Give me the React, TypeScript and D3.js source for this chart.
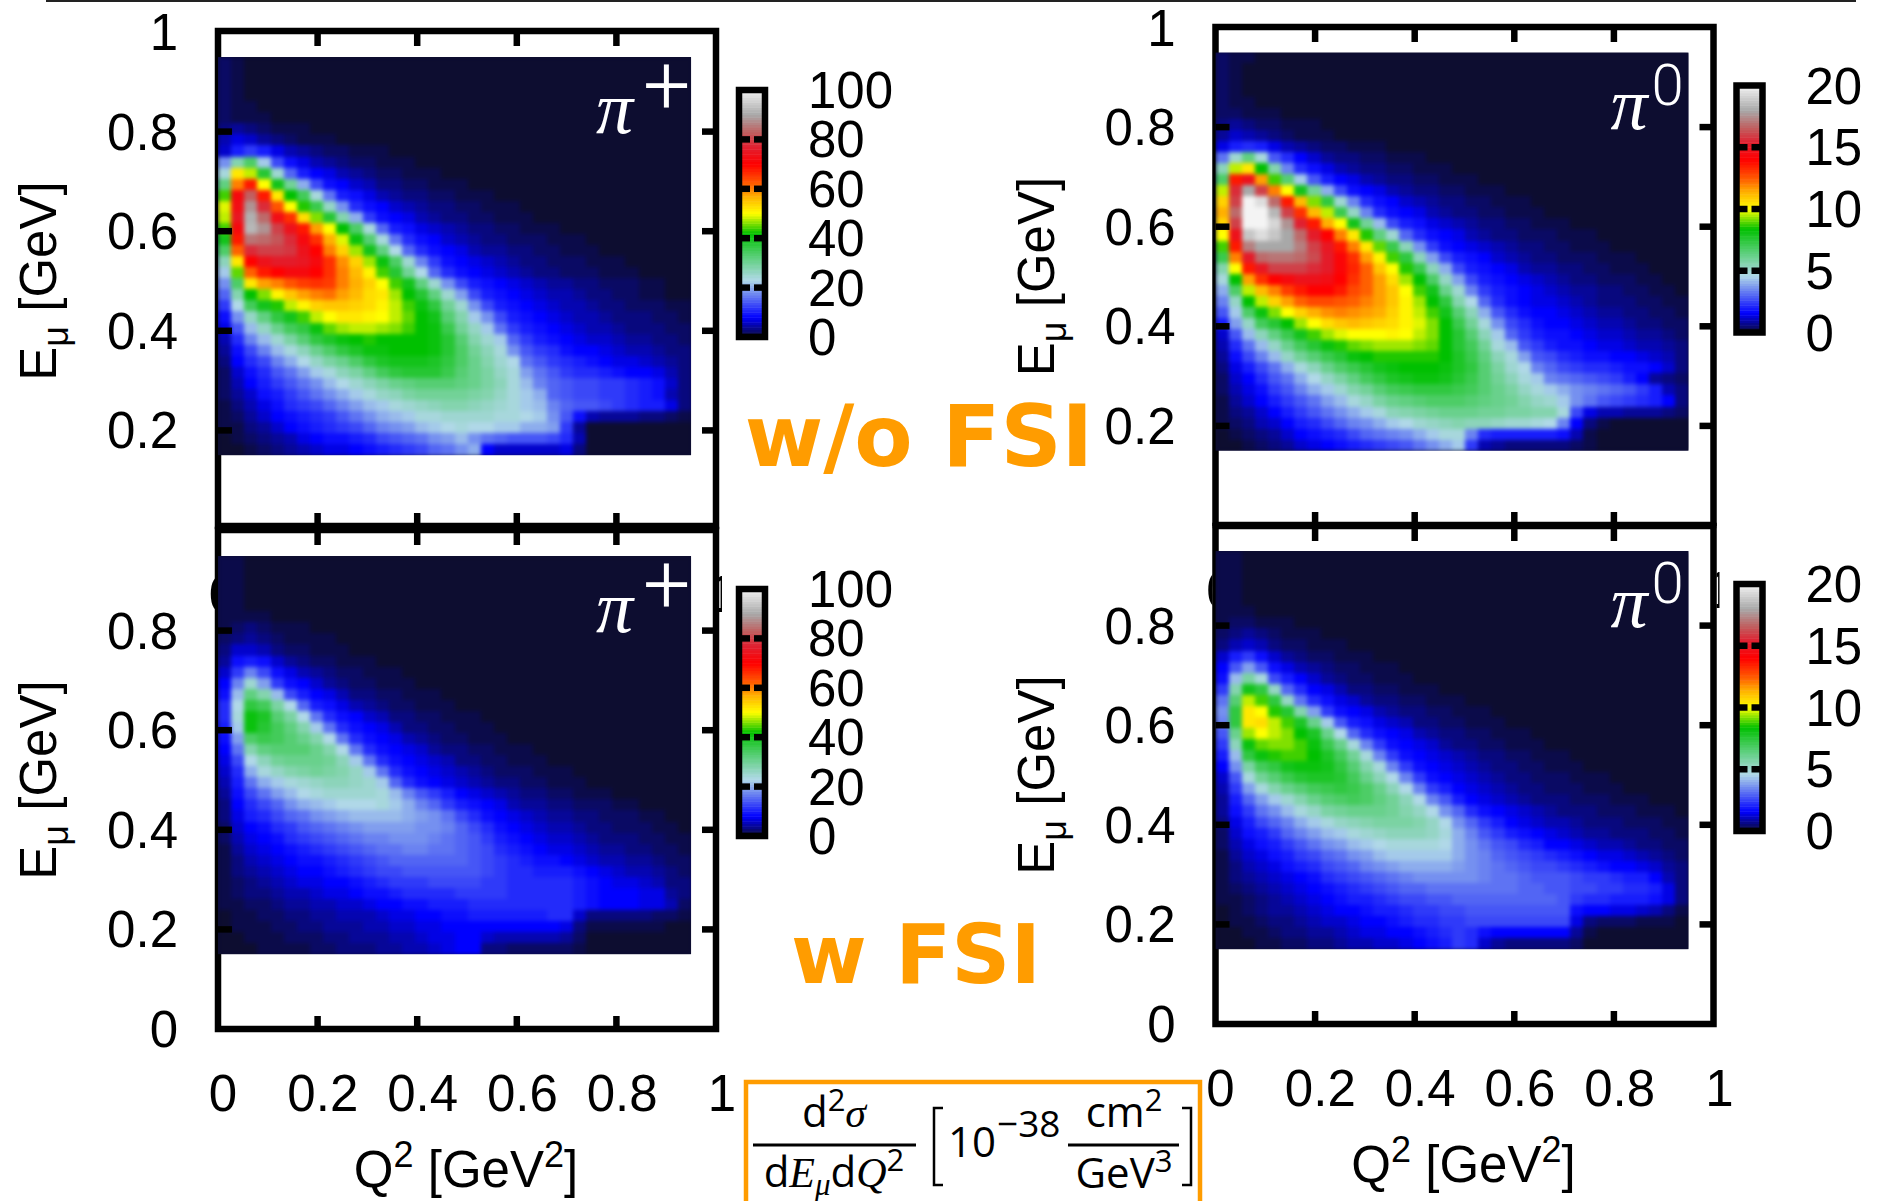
import * as d3 from "d3";

// cross section, one row per 36 columns, top row first
// (Q2 0 - 0.95, E 0.95 - 0.15). Rows stop where the map goes to the background.
// Values are percent of the colour bar range (0-100 left, 0-20 right).
const piPlusNoFsi = [
  [2, 1], [2, 1], [2, 1], [2, 1], [2, 1, 1], [2, 1, 1, 1],
  [3, 4, 3, 2, 1, 1, 1],
  [5, 7, 6, 4, 3, 2, 1, 1, 1],
  [6, 10, 12, 10, 7, 5, 4, 3, 2, 2, 1, 1, 1],
  [18, 28, 34, 22, 13, 9, 7, 5, 4, 3, 2, 2, 1, 1, 1],
  [24, 52, 48, 38, 25, 15, 10, 8, 7, 5, 4, 3, 2, 2, 1, 1, 1],
  [32, 60, 68, 50, 40, 30, 20, 13, 9, 8, 6, 5, 3, 3, 2, 2, 1, 1, 1],
  [44, 72, 83, 68, 52, 42, 35, 24, 16, 10, 9, 7, 5, 4, 3, 3, 2, 2, 1, 1, 1],
  [49, 73, 88, 78, 63, 50, 43, 36, 26, 18, 11, 9, 8, 6, 5, 4, 3, 3, 2, 2, 1, 1, 1],
  [48, 75, 91, 84, 73, 66, 53, 46, 38, 28, 20, 12, 9, 8, 7, 5, 4, 3, 3, 2, 2, 1, 1, 1],
  [44, 72, 92, 88, 80, 74, 68, 58, 50, 42, 34, 24, 15, 10, 9, 7, 6, 5, 4, 3, 3, 2, 2, 1, 1, 1],
  [40, 68, 85, 84, 82, 78, 72, 66, 57, 49, 41, 33, 24, 16, 11, 9, 8, 6, 5, 4, 3, 3, 2, 2, 2, 1, 1, 1],
  [34, 62, 78, 80, 80, 79, 74, 70, 60, 54, 47, 40, 32, 23, 15, 11, 9, 8, 7, 5, 4, 4, 3, 3, 2, 2, 1, 1, 1],
  [27, 52, 70, 74, 76, 76, 75, 72, 66, 59, 54, 47, 41, 34, 25, 17, 12, 9, 8, 7, 6, 5, 4, 3, 3, 2, 2, 2, 1, 1, 1],
  [22, 45, 62, 68, 70, 72, 72, 70, 66, 60, 56, 51, 44, 38, 30, 23, 15, 11, 9, 8, 7, 6, 5, 4, 3, 3, 2, 2, 2, 1, 1, 1],
  [18, 34, 52, 58, 60, 63, 65, 66, 65, 60, 57, 54, 50, 44, 40, 32, 25, 18, 13, 10, 9, 8, 7, 6, 5, 4, 4, 3, 3, 2, 2, 2, 1, 1],
  [15, 28, 42, 46, 51, 55, 58, 60, 61, 58, 56, 53, 52, 47, 42, 38, 32, 25, 19, 13, 10, 9, 8, 7, 6, 5, 5, 4, 3, 3, 2, 2, 1, 1],
  [12, 23, 35, 40, 43, 48, 51, 54, 55, 55, 54, 53, 51, 48, 44, 41, 37, 30, 25, 18, 13, 10, 9, 8, 7, 6, 5, 5, 4, 3, 3, 2, 2, 2, 1, 1],
  [9, 18, 26, 32, 37, 40, 44, 48, 50, 52, 52, 51, 50, 48, 45, 42, 40, 33, 28, 22, 18, 13, 10, 9, 8, 7, 6, 5, 5, 4, 3, 3, 3, 2, 2, 1],
  [7, 14, 21, 26, 31, 35, 37, 41, 45, 47, 48, 48, 47, 46, 44, 42, 41, 36, 30, 26, 22, 16, 12, 10, 9, 8, 7, 6, 5, 5, 4, 3, 3, 3, 2, 2],
  [5, 11, 17, 21, 25, 29, 33, 37, 39, 41, 42, 43, 42, 42, 42, 42, 41, 38, 33, 28, 25, 22, 15, 12, 10, 9, 8, 7, 6, 6, 5, 4, 4, 3, 3, 2],
  [4, 9, 13, 17, 21, 24, 27, 31, 34, 37, 39, 41, 41, 42, 42, 42, 41, 38, 34, 30, 27, 24, 18, 14, 12, 11, 9, 8, 8, 7, 6, 5, 5, 4, 3, 3],
  [3, 8, 11, 13, 17, 20, 23, 26, 29, 31, 34, 37, 39, 40, 40, 40, 39, 37, 34, 31, 28, 25, 23, 16, 14, 12, 11, 10, 9, 8, 7, 7, 6, 5, 4, 3],
  [2, 6, 9, 11, 14, 16, 19, 22, 24, 27, 29, 32, 35, 37, 38, 38, 38, 36, 33, 31, 29, 26, 24, 19, 16, 14, 12, 11, 11, 10, 9, 8, 8, 7, 5, 3],
  [2, 5, 8, 10, 12, 14, 16, 18, 21, 23, 25, 27, 29, 31, 32, 33, 33, 33, 32, 31, 29, 27, 24, 21, 17, 15, 14, 13, 13, 12, 12, 11, 10, 9, 6, 3],
  [2, 4, 6, 9, 10, 12, 14, 16, 18, 20, 22, 24, 26, 27, 29, 30, 30, 30, 30, 29, 28, 26, 24, 22, 20, 15, 14, 13, 13, 12, 12, 11, 10, 9, 5, 3],
  [1, 3, 5, 7, 9, 11, 12, 13, 15, 17, 19, 21, 22, 24, 25, 26, 27, 28, 28, 27, 26, 25, 24, 22, 21, 17, 15, 14, 14, 13, 12, 11, 10, 10, 7, 3],
  [1, 2, 4, 6, 8, 9, 10, 11, 12, 14, 16, 18, 20, 21, 22, 24, 24, 25, 25, 25, 25, 24, 24, 23, 22, 18, 14, 9, 5, 4, 4, 4, 3, 3, 2, 1],
  [1, 1, 3, 4, 6, 8, 9, 10, 11, 12, 13, 15, 17, 18, 19, 21, 22, 23, 24, 23, 23, 22, 22, 20, 20, 19, 12, 4],
  [0, 1, 2, 3, 4, 5, 7, 8, 9, 9, 10, 11, 13, 14, 15, 16, 18, 19, 21, 18, 16, 15, 14, 14, 14, 13, 11, 5],
  [0, 0, 1, 2, 3, 4, 5, 6, 7, 7, 8, 9, 10, 11, 12, 13, 15, 16, 18, 20, 8, 6, 6, 6, 6, 6, 7, 3],
];

const piZeroNoFsi = [
  [2, 1, 1], [2, 1], [2, 1], [2, 1], [2, 1, 1], [2, 2, 1, 1, 1],
  [3, 4, 3, 2, 2, 1, 1, 1],
  [4, 6, 5, 4, 3, 2, 1, 1, 1],
  [7, 10, 11, 10, 7, 5, 4, 3, 2, 2, 1, 1, 1],
  [16, 25, 32, 24, 14, 11, 8, 6, 4, 3, 3, 2, 2, 1, 1, 1],
  [27, 48, 52, 42, 28, 17, 11, 9, 7, 5, 4, 3, 3, 2, 2, 1, 1, 1],
  [34, 68, 74, 58, 44, 33, 22, 14, 10, 8, 7, 5, 4, 3, 3, 2, 2, 1, 1, 1],
  [48, 78, 90, 80, 60, 50, 40, 30, 20, 13, 9, 8, 7, 5, 4, 3, 3, 2, 2, 1, 1, 1],
  [54, 80, 100, 97, 84, 68, 56, 46, 37, 25, 17, 11, 9, 8, 6, 5, 4, 3, 3, 2, 2, 1, 1, 1],
  [57, 84, 100, 100, 92, 80, 66, 56, 48, 36, 26, 17, 11, 9, 8, 7, 5, 4, 3, 3, 2, 2, 1, 1, 1],
  [54, 80, 100, 100, 96, 88, 77, 68, 57, 50, 40, 30, 21, 13, 10, 9, 7, 6, 5, 4, 3, 3, 2, 2, 1, 1, 1],
  [50, 74, 94, 97, 94, 90, 84, 76, 70, 60, 52, 43, 32, 25, 15, 11, 9, 8, 7, 5, 4, 3, 3, 2, 2, 2, 1, 1, 1],
  [44, 68, 86, 90, 90, 90, 86, 80, 75, 68, 60, 52, 45, 36, 27, 18, 12, 9, 8, 7, 6, 5, 4, 3, 3, 2, 2, 1, 1, 1],
  [36, 60, 76, 84, 85, 85, 84, 81, 76, 71, 66, 58, 51, 44, 37, 27, 19, 13, 10, 9, 8, 6, 5, 4, 3, 3, 2, 2, 2, 1, 1, 1],
  [28, 50, 68, 75, 80, 80, 80, 78, 76, 71, 67, 62, 55, 50, 43, 36, 27, 20, 13, 10, 9, 8, 7, 5, 4, 4, 3, 3, 2, 2, 1, 1, 1],
  [24, 42, 58, 66, 70, 72, 74, 74, 73, 70, 66, 62, 58, 53, 47, 42, 34, 26, 19, 13, 10, 9, 8, 7, 6, 5, 4, 3, 3, 2, 2, 2, 1, 1],
  [20, 34, 48, 56, 60, 65, 68, 70, 70, 68, 64, 62, 58, 55, 50, 44, 40, 31, 25, 17, 12, 10, 9, 8, 7, 6, 5, 4, 4, 3, 3, 2, 2, 1, 1],
  [17, 26, 42, 48, 54, 58, 62, 64, 64, 63, 62, 60, 58, 55, 51, 47, 42, 37, 28, 23, 15, 11, 9, 8, 7, 7, 6, 5, 4, 3, 3, 3, 2, 2, 1, 1],
  [14, 22, 34, 41, 46, 50, 54, 57, 59, 60, 59, 58, 57, 54, 51, 48, 44, 40, 33, 27, 20, 14, 11, 9, 8, 8, 7, 6, 5, 4, 4, 3, 3, 2, 2, 1],
  [10, 19, 26, 35, 38, 42, 47, 50, 53, 55, 56, 55, 54, 53, 51, 49, 46, 42, 36, 30, 24, 18, 13, 11, 9, 8, 8, 7, 6, 5, 5, 4, 3, 3, 2, 2],
  [6, 14, 21, 27, 32, 36, 40, 44, 47, 49, 50, 50, 50, 51, 50, 48, 46, 42, 38, 33, 27, 22, 15, 12, 10, 9, 9, 8, 7, 6, 6, 5, 4, 4, 3, 2],
  [5, 11, 16, 21, 26, 31, 35, 38, 41, 43, 45, 46, 47, 47, 47, 46, 45, 42, 38, 35, 30, 24, 21, 14, 12, 10, 9, 9, 8, 7, 7, 6, 5, 5, 4, 3],
  [4, 9, 13, 17, 21, 26, 30, 33, 36, 38, 41, 42, 43, 43, 43, 43, 43, 42, 39, 36, 32, 27, 24, 19, 14, 13, 11, 10, 9, 9, 8, 8, 7, 6, 5, 3],
  [3, 7, 10, 13, 16, 20, 24, 27, 31, 34, 36, 38, 40, 41, 42, 42, 42, 41, 39, 37, 33, 29, 25, 23, 17, 15, 13, 12, 11, 11, 10, 9, 9, 8, 6, 3],
  [2, 6, 8, 11, 14, 16, 20, 23, 26, 29, 32, 35, 37, 39, 40, 41, 41, 40, 38, 36, 33, 30, 27, 24, 22, 17, 16, 15, 14, 13, 12, 10, 8, 4, 3, 2],
  [2, 5, 7, 9, 12, 14, 17, 20, 22, 25, 28, 30, 33, 35, 36, 37, 37, 37, 36, 35, 33, 31, 29, 26, 24, 22, 20, 18, 17, 16, 15, 14, 12, 10, 5, 3],
  [1, 4, 6, 8, 10, 12, 14, 16, 19, 21, 24, 26, 29, 31, 32, 33, 34, 34, 34, 33, 32, 31, 30, 28, 26, 25, 22, 18, 16, 14, 13, 12, 11, 10, 8, 3],
  [1, 3, 4, 6, 8, 10, 12, 14, 16, 18, 20, 22, 24, 27, 28, 29, 30, 31, 31, 31, 30, 30, 29, 29, 28, 28, 24, 13, 7, 5, 5, 4, 4, 4, 3, 2],
  [1, 2, 3, 5, 6, 8, 10, 11, 13, 15, 17, 18, 20, 22, 23, 25, 26, 27, 28, 27, 27, 26, 25, 25, 24, 23, 17, 8, 3, 1],
  [0, 1, 2, 3, 4, 6, 8, 9, 10, 11, 13, 15, 16, 17, 18, 20, 22, 24, 24, 17, 11, 10, 10, 10, 10, 10, 9, 5, 1],
  [0, 0, 1, 2, 3, 4, 6, 7, 8, 9, 10, 11, 12, 13, 14, 16, 18, 20, 22, 12, 5, 4, 3, 3, 3, 3, 3, 2, 1],
];

const piPlusFsi = [
  [1, 1], [1, 1], [1, 1], [1, 1], [1, 1], [1, 1, 1, 1],
  [1, 2, 3, 2, 1, 1, 1],
  [2, 3, 4, 3, 2, 1, 1, 1, 1],
  [3, 6, 6, 5, 3, 2, 2, 1, 1, 1],
  [4, 9, 10, 9, 6, 4, 3, 2, 2, 1, 1, 1],
  [6, 12, 17, 13, 9, 7, 5, 4, 3, 2, 2, 1, 1, 1],
  [8, 17, 25, 19, 12, 9, 8, 6, 4, 3, 2, 2, 1, 1, 1],
  [9, 21, 32, 28, 21, 13, 10, 8, 7, 5, 3, 3, 2, 2, 1, 1, 1],
  [11, 23, 37, 35, 29, 23, 15, 10, 9, 7, 5, 4, 3, 2, 2, 1, 1, 1],
  [11, 24, 41, 39, 33, 29, 23, 16, 11, 9, 8, 6, 5, 3, 3, 2, 2, 1, 1, 1],
  [10, 22, 41, 38, 35, 32, 28, 22, 16, 11, 9, 8, 7, 5, 3, 3, 2, 2, 1, 1, 1],
  [9, 19, 34, 36, 35, 33, 31, 28, 23, 16, 11, 9, 8, 7, 5, 4, 3, 2, 2, 1, 1, 1],
  [8, 16, 28, 32, 33, 33, 33, 31, 28, 23, 16, 11, 9, 8, 7, 6, 4, 3, 3, 2, 2, 1, 1, 1],
  [7, 13, 23, 27, 30, 31, 31, 31, 30, 27, 22, 16, 11, 9, 8, 7, 6, 5, 3, 3, 2, 2, 1, 1, 1],
  [6, 11, 20, 24, 26, 28, 29, 30, 29, 28, 26, 22, 16, 11, 9, 8, 7, 6, 5, 4, 3, 2, 2, 2, 1, 1, 1],
  [5, 10, 16, 20, 22, 24, 25, 26, 27, 27, 26, 25, 22, 15, 11, 9, 8, 7, 6, 5, 4, 3, 3, 2, 2, 1, 1, 1],
  [4, 9, 13, 16, 19, 21, 23, 24, 25, 25, 25, 25, 24, 21, 17, 14, 12, 10, 8, 7, 6, 5, 4, 3, 3, 2, 2, 1, 1, 1],
  [3, 8, 11, 13, 15, 18, 20, 21, 22, 23, 23, 23, 24, 22, 20, 17, 15, 12, 10, 9, 8, 7, 5, 4, 4, 3, 3, 2, 2, 2, 1, 1],
  [3, 7, 10, 11, 13, 15, 16, 18, 19, 20, 21, 21, 21, 21, 20, 19, 18, 16, 13, 11, 9, 8, 7, 6, 5, 4, 4, 3, 3, 2, 2, 2, 1, 1],
  [2, 6, 8, 9, 11, 12, 14, 15, 16, 17, 18, 19, 19, 19, 19, 18, 18, 17, 15, 13, 11, 9, 8, 7, 6, 5, 5, 4, 3, 3, 2, 2, 2, 1, 1],
  [2, 5, 7, 8, 9, 11, 12, 13, 14, 15, 16, 17, 17, 18, 18, 18, 17, 16, 15, 14, 12, 10, 9, 8, 7, 6, 6, 5, 4, 3, 3, 3, 2, 2, 1, 1],
  [1, 4, 6, 7, 8, 9, 10, 11, 12, 13, 14, 15, 16, 16, 17, 17, 16, 16, 15, 14, 13, 11, 10, 9, 8, 7, 7, 6, 5, 4, 4, 3, 3, 2, 2, 1],
  [1, 3, 5, 6, 7, 8, 9, 9, 10, 11, 12, 13, 14, 15, 15, 15, 15, 15, 15, 14, 13, 12, 11, 10, 9, 9, 8, 7, 6, 5, 5, 4, 4, 3, 2, 2],
  [1, 3, 4, 5, 6, 7, 8, 8, 9, 10, 11, 12, 13, 13, 14, 14, 14, 14, 14, 14, 13, 12, 11, 11, 10, 10, 10, 9, 8, 7, 6, 5, 5, 4, 3, 2],
  [1, 2, 3, 4, 5, 6, 7, 7, 8, 8, 9, 10, 11, 12, 12, 12, 13, 13, 13, 13, 12, 12, 11, 11, 11, 11, 11, 10, 9, 8, 7, 7, 6, 5, 3, 3],
  [1, 2, 3, 3, 4, 5, 5, 6, 7, 7, 8, 9, 9, 10, 11, 11, 11, 11, 12, 12, 12, 12, 11, 11, 11, 11, 11, 10, 9, 8, 8, 8, 7, 7, 4, 3],
  [1, 1, 2, 2, 3, 4, 4, 5, 5, 6, 6, 7, 8, 8, 9, 9, 10, 10, 10, 11, 11, 11, 11, 11, 11, 11, 11, 10, 9, 8, 8, 8, 7, 7, 5, 2],
  [0, 1, 1, 2, 2, 3, 3, 4, 4, 5, 5, 5, 6, 7, 7, 8, 8, 9, 9, 10, 10, 10, 10, 10, 10, 11, 11, 6, 3, 3, 3, 3, 3, 2, 2, 1],
  [0, 1, 1, 1, 2, 2, 3, 3, 4, 4, 4, 5, 5, 6, 6, 7, 7, 8, 8, 8, 8, 8, 8, 8, 8, 8, 7, 3, 1, 1, 1, 1, 1, 1],
  [0, 0, 1, 1, 1, 2, 2, 2, 3, 3, 4, 4, 4, 5, 5, 6, 7, 7, 8, 8, 6, 5, 5, 5, 5, 5, 4, 2],
  [0, 0, 0, 1, 1, 1, 1, 2, 2, 3, 3, 3, 4, 4, 5, 5, 6, 7, 8, 8, 3, 3, 2, 2, 2, 2, 2, 1],
];

const piZeroFsi = [
  [1, 1], [1, 1], [1, 1], [1, 1], [1, 1], [1, 1, 1],
  [1, 2, 2, 1, 1, 1],
  [2, 3, 4, 3, 2, 1, 1, 1],
  [3, 5, 6, 5, 3, 2, 2, 1, 1, 1],
  [6, 10, 12, 9, 6, 4, 3, 2, 2, 1, 1, 1],
  [8, 14, 19, 14, 9, 7, 5, 4, 3, 2, 2, 1, 1, 1],
  [9, 21, 29, 24, 13, 10, 8, 6, 4, 3, 2, 2, 1, 1, 1],
  [12, 28, 40, 37, 26, 15, 11, 8, 7, 5, 3, 3, 2, 2, 1, 1, 1],
  [16, 33, 48, 44, 37, 26, 16, 11, 9, 7, 6, 4, 3, 3, 2, 2, 1, 1, 1],
  [18, 37, 52, 50, 43, 38, 28, 19, 12, 9, 8, 7, 5, 4, 3, 3, 2, 2, 1, 1, 1],
  [17, 37, 52, 53, 48, 44, 39, 31, 22, 14, 10, 9, 7, 6, 5, 3, 3, 2, 2, 1, 1, 1],
  [14, 31, 47, 50, 48, 46, 42, 39, 31, 23, 15, 11, 9, 8, 7, 5, 4, 3, 3, 2, 2, 1, 1, 1],
  [12, 27, 41, 45, 46, 46, 44, 41, 36, 31, 24, 17, 12, 9, 8, 7, 6, 4, 3, 3, 2, 2, 1, 1, 1],
  [10, 21, 37, 41, 43, 44, 44, 42, 39, 35, 30, 24, 17, 12, 9, 8, 7, 6, 5, 4, 3, 3, 2, 2, 1, 1, 1],
  [8, 18, 29, 35, 37, 40, 41, 41, 40, 37, 33, 28, 24, 17, 12, 9, 8, 7, 6, 5, 4, 3, 3, 2, 2, 1, 1, 1],
  [6, 14, 24, 30, 33, 36, 38, 39, 39, 38, 35, 31, 27, 23, 17, 12, 9, 8, 7, 6, 5, 4, 3, 3, 2, 2, 2, 1, 1, 1],
  [5, 12, 19, 24, 28, 31, 33, 35, 36, 37, 36, 34, 31, 27, 23, 17, 12, 10, 8, 7, 6, 5, 4, 3, 3, 2, 2, 2, 1, 1, 1],
  [4, 10, 15, 19, 22, 25, 28, 31, 33, 34, 35, 34, 32, 30, 27, 23, 17, 14, 10, 8, 7, 6, 5, 4, 3, 3, 3, 2, 2, 2, 1, 1, 1],
  [4, 9, 12, 16, 18, 21, 24, 26, 29, 30, 31, 31, 31, 30, 28, 26, 23, 18, 15, 11, 9, 8, 7, 6, 5, 4, 3, 3, 3, 2, 2, 2, 1, 1, 1],
  [3, 7, 10, 13, 15, 17, 20, 22, 24, 26, 27, 28, 29, 29, 29, 28, 26, 23, 18, 15, 12, 10, 8, 7, 6, 5, 5, 4, 3, 3, 3, 2, 2, 2, 1, 1],
  [2, 6, 9, 10, 12, 15, 17, 19, 21, 22, 24, 25, 26, 27, 27, 27, 26, 24, 20, 17, 14, 12, 10, 9, 8, 7, 6, 5, 4, 4, 3, 3, 3, 2, 2, 1],
  [2, 5, 7, 9, 10, 12, 14, 16, 18, 19, 21, 22, 23, 24, 24, 24, 24, 23, 20, 18, 16, 14, 13, 11, 10, 8, 8, 7, 6, 5, 5, 4, 3, 3, 2, 2],
  [1, 4, 6, 7, 9, 10, 12, 13, 15, 16, 18, 19, 21, 22, 22, 22, 22, 22, 20, 18, 17, 15, 14, 13, 12, 11, 10, 9, 8, 7, 7, 6, 5, 4, 3, 2],
  [1, 3, 5, 6, 7, 9, 10, 11, 13, 14, 15, 17, 18, 19, 20, 20, 20, 20, 19, 18, 17, 16, 15, 14, 13, 13, 12, 11, 10, 9, 8, 8, 7, 6, 4, 3],
  [1, 3, 4, 5, 6, 7, 8, 9, 11, 12, 13, 14, 15, 16, 17, 18, 18, 18, 18, 18, 17, 16, 16, 15, 14, 14, 14, 13, 12, 12, 11, 10, 10, 8, 5, 3],
  [1, 2, 3, 4, 5, 6, 7, 8, 9, 10, 11, 12, 13, 14, 15, 15, 16, 16, 16, 16, 16, 16, 16, 15, 15, 14, 14, 13, 13, 12, 12, 11, 11, 10, 7, 3],
  [1, 1, 2, 3, 4, 5, 6, 7, 8, 9, 10, 10, 11, 12, 13, 13, 14, 14, 15, 15, 15, 15, 15, 15, 15, 15, 14, 12, 11, 11, 10, 10, 10, 9, 7, 3],
  [0, 1, 2, 3, 4, 4, 5, 6, 7, 8, 8, 9, 10, 10, 11, 12, 12, 13, 13, 14, 14, 14, 14, 14, 14, 14, 14, 9, 8, 8, 7, 7, 6, 5, 3, 1],
  [0, 1, 1, 2, 3, 3, 4, 5, 6, 6, 7, 8, 8, 9, 10, 11, 11, 12, 12, 13, 13, 13, 13, 13, 13, 13, 13, 7, 3, 2, 2, 2, 1, 1, 1],
  [0, 0, 1, 1, 2, 3, 3, 4, 4, 5, 6, 7, 7, 8, 8, 9, 10, 11, 12, 11, 9, 8, 8, 8, 8, 8, 8, 4, 1],
  [0, 0, 0, 1, 1, 2, 2, 3, 3, 4, 5, 5, 6, 6, 7, 8, 9, 10, 12, 11, 6, 4, 3, 3, 3, 3, 3, 2],
];

const axisTicks = [0.2, 0.4, 0.6, 0.8];
const xTickLabels = [0, 0.2, 0.4, 0.6, 0.8, 1];
const barTicksPlus = [0, 20, 40, 60, 80, 100];
const barTicksZero = [0, 5, 10, 15, 20];

const paletteStops = [0, 8, 23, 32, 42, 50, 57, 62, 70, 77, 83, 90, 100];
const paletteColors = ["#0d0d30", "#0000ff", "#b0d8e8", "#60d080", "#00c000", "#ffff00", "#ffb000", "#ff6000", "#ff0000", "#e02030", "#c06060", "#a8a8a8", "#f4f4f4"];
const color = d3.scaleLinear<string>().domain(paletteStops).range(paletteColors).clamp(true);

const FONT = "'Liberation Sans', Arial, sans-serif";
const LIGHT = "Roboto, 'Liberation Sans', sans-serif";
const ORANGE = "#ff9c00";
const SIDE = 498;
const STROKE = 6.5;
const NCELL = 36;
const cellIndex = d3.range(NCELL);

const Panel = ({ id, left, zero, frameTop, frameBottom, rows, barTicks, sup, upper, lower }: any) => {
  const x = d3.scaleLinear().domain([0, 1]).range([left, left + SIDE]);
  const y = d3.scaleLinear().domain([0, 1]).range([zero, zero - SIDE]);
  const cx = d3.scaleBand<number>().domain(cellIndex).range([x(0), x(0.95)]);
  const cy = d3.scaleBand<number>().domain(cellIndex).range([y(0.95), y(0.15)]);
  const labelX = d3.scaleLinear().domain([0, 1]).range([left + 5, left + 504]);
  const barMax = d3.max(barTicks) as number;
  const barY = d3.scaleLinear().domain([0, barMax]).range([zero - 193, zero - 440]);
  const barPct = d3.scaleLinear().domain([0, 100]).range([zero - 193, zero - 440]);
  const barL = left + 521;
  const barR = left + 547;
  const imgW = x(0.95) - x(0);
  const imgH = y(0.15) - y(0.95);

  const yLabels = lower ? [0, ...axisTicks] : [...axisTicks, 1];

  return (
    <g>
      {/* lower panels are opaque and hide the tick labels of the panel above */}
      {lower && <rect x={left - 3} y={frameTop} width={SIDE + 6} height={frameBottom - frameTop} fill="#fff" />}
      <rect x={left} y={frameTop} width={SIDE} height={frameBottom - frameTop} fill="none" stroke="#000" strokeWidth={STROKE} />

      {axisTicks.map((t) => (
        <g key={t} stroke="#000" strokeWidth={STROKE}>
          <line x1={x(t)} x2={x(t)} y1={frameTop} y2={frameTop + 15} />
          <line x1={x(t)} x2={x(t)} y1={frameBottom} y2={frameBottom - 13} />
          <line x1={x(1)} x2={x(1) - 14} y1={y(t)} y2={y(t)} />
        </g>
      ))}

      <defs>
        <filter id={`soft-${id}`} x="-5%" y="-5%" width="110%" height="110%" colorInterpolationFilters="sRGB">
          <feGaussianBlur stdDeviation="2" />
        </filter>
        <clipPath id={`map-${id}`}>
          <rect x={x(0)} y={y(0.95)} width={imgW} height={imgH} />
        </clipPath>
        <clipPath id={`stub-${id}`}>
          <rect x={left + SIDE + 2} y={zero} width={4} height={100} />
        </clipPath>
      </defs>
      <g clipPath={`url(#map-${id})`}>
        <rect x={x(0)} y={y(0.95)} width={imgW} height={imgH} fill={color(0)} />
        <g filter={`url(#soft-${id})`} shapeRendering="crispEdges">
          {rows.map((row: number[], r: number) =>
            cellIndex.map((c) => (
              <rect key={c} x={cx(c)} y={cy(r)} width={cx.bandwidth() + 0.5} height={cy.bandwidth() + 0.5} fill={color(row[c] ?? 0)} />
            ))
          )}
        </g>
        <text x={left + (sup === "+" ? 378 : 395)} y={zero - 397} fontFamily="'Liberation Serif', serif" fontStyle="italic" fontSize={74} fill="#fff">π</text>
        <text x={left + (sup === "+" ? 425 : 436)} y={zero - (sup === "+" ? 416 : 421)} fontFamily={LIGHT} fontWeight={300} fontSize={sup === "+" ? 84 : 58} fill="#fff">{sup}</text>
      </g>

      {axisTicks.map((t) => (
        <line key={t} x1={x(0)} x2={x(0) + 14} y1={y(t)} y2={y(t)} stroke="#000" strokeWidth={STROKE} />
      ))}

      <g fontFamily={FONT} fontSize={51} fill="#000">
        {yLabels.map((t) => (
          <text key={t} x={left - 40} y={y(t) + 18} textAnchor="end">{t}</text>
        ))}
        <text transform={`translate(${left - 162},${zero - 249}) rotate(-90)`} textAnchor="middle">
          E<tspan fontSize={36} dy={12}>μ</tspan><tspan dy={-12}> [GeV]</tspan>
        </text>
      </g>

      {/* colour bar */}
      {d3.range(0, 100).map((p) => (
        <rect key={p} x={barL} y={barPct(p + 1)} width={barR - barL} height={barPct(p) - barPct(p + 1) + 0.5} fill={color(p + 0.5)} />
      ))}
      <rect x={barL} y={barPct(100)} width={barR - barL} height={barPct(0) - barPct(100)} fill="none" stroke="#000" strokeWidth={STROKE} />
      {barTicks.slice(1, -1).map((t: number) => (
        <g key={t} stroke="#000" strokeWidth={STROKE}>
          <line x1={barL} x2={barL + 11} y1={barY(t)} y2={barY(t)} />
          <line x1={barR} x2={barR - 11} y1={barY(t)} y2={barY(t)} />
        </g>
      ))}
      <g fontFamily={FONT} fontSize={51} fill="#000">
        {barTicks.map((t: number) => (
          <text key={t} x={left + 590} y={barY(t) + 18}>{t}</text>
        ))}
      </g>

      {/* x tick labels, upper panels only show what the lower panel leaves uncovered */}
      <g fontFamily={FONT} fontSize={51} fill="#000">
        {upper && <text x={labelX(0)} y={zero + 82} textAnchor="middle">0</text>}
        {upper && <text x={labelX(1)} y={zero + 82} textAnchor="middle" clipPath={`url(#stub-${id})`}>1</text>}
        {lower && xTickLabels.map((t) => (
          <text key={t} x={labelX(t)} y={zero + 82} textAnchor="middle">{t}</text>
        ))}
        {lower && (
          <text x={left + 248} y={zero + 158} textAnchor="middle">
            Q<tspan fontSize={36} dy={-20}>2</tspan><tspan dy={20}> [GeV</tspan><tspan fontSize={36} dy={-20}>2</tspan><tspan dy={20}>]</tspan>
          </text>
        )}
      </g>
    </g>
  );
};

const Formula = () => {
  const sans = { fontFamily: "'Open Sans', 'Liberation Sans', sans-serif", fontSize: 42, fill: "#000" };
  const small = 31;
  const mathFont = "'Liberation Serif', serif";
  return (
    <g>
      <rect x={746} y={1082} width={454} height={122} fill="none" stroke={ORANGE} strokeWidth={4.5} />
      <text x={834} y={1127} textAnchor="middle" {...sans}>
        d<tspan fontSize={small} dy={-16}>2</tspan><tspan dy={16} fontFamily={mathFont} fontStyle="italic">σ</tspan>
      </text>
      <line x1={753} x2={916} y1={1145} y2={1145} stroke="#000" strokeWidth={3} />
      <text x={834} y={1187} textAnchor="middle" {...sans}>
        d<tspan fontFamily={mathFont} fontStyle="italic">E</tspan><tspan fontSize={small} dy={8} fontFamily={mathFont} fontStyle="italic">μ</tspan><tspan dy={-8}>d</tspan><tspan fontFamily={mathFont} fontStyle="italic">Q</tspan><tspan fontSize={small} dy={-16}>2</tspan>
      </text>
      <path d="M943,1108H934V1185H943" fill="none" stroke="#000" strokeWidth={2.5} />
      <text x={948} y={1157} {...sans}>10</text>
      <text x={997} y={1137} {...sans} fontSize={37}>−38</text>
      <text x={1124} y={1127} textAnchor="middle" {...sans}>
        cm<tspan fontSize={small} dy={-16}>2</tspan>
      </text>
      <line x1={1068} x2={1179} y1={1145} y2={1145} stroke="#000" strokeWidth={3} />
      <text x={1124} y={1188} textAnchor="middle" {...sans}>
        GeV<tspan fontSize={small} dy={-16}>3</tspan>
      </text>
      <path d="M1182,1108H1191V1185H1182" fill="none" stroke="#000" strokeWidth={2.5} />
    </g>
  );
};

export default function App() {
  return (
    <svg width={1884} height={1201} style={{ position: "absolute", left: 0, top: 0, background: "#fff" }}>
      <line x1={46} x2={1856} y1={1} y2={1} stroke="#222" strokeWidth={2} />

      <Panel id="a" left={218} zero={530} frameTop={31} frameBottom={526} rows={piPlusNoFsi} barTicks={barTicksPlus} sup="+" upper />
      <Panel id="b" left={1215.5} zero={525.5} frameTop={27} frameBottom={525} rows={piZeroNoFsi} barTicks={barTicksZero} sup="0" upper />
      <Panel id="c" left={218} zero={1029} frameTop={530} frameBottom={1029} rows={piPlusFsi} barTicks={barTicksPlus} sup="+" lower />
      <Panel id="d" left={1215.5} zero={1024} frameTop={526} frameBottom={1024} rows={piZeroFsi} barTicks={barTicksZero} sup="0" lower />

      <g fontFamily="'DejaVu Sans', sans-serif" fontWeight="bold" fill={ORANGE} textAnchor="middle">
        <text x={919} y={466} fontSize={85}>w/o FSI</text>
        <text x={916} y={983} fontSize={82}>w FSI</text>
      </g>
      <Formula />
    </svg>
  );
}
